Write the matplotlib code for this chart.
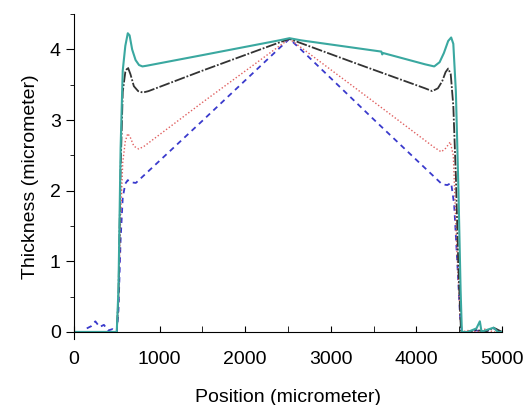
import matplotlib.pyplot as plt
from matplotlib.ticker import MultipleLocator

plt.rcParams['font.family'] = ['Liberation Sans', 'DejaVu Sans']

# teal solid
x_teal = [0, 200, 400, 500, 520, 545, 570, 600, 629, 650, 680, 720, 760, 800, 850, 1500, 2400, 2517, 2650,
          3590, 3600, 3610, 4100, 4207, 4270, 4320, 4370, 4405, 4430, 4460, 4490, 4515, 4530,
          4600, 4700, 4740, 4760, 4800, 4900, 4950, 5000]
y_teal = [0, 0, 0, 0, 0.6, 2.6, 3.7, 4.05, 4.23, 4.2, 4.0, 3.85, 3.78, 3.76, 3.77, 3.92, 4.13, 4.16, 4.13,
          3.97, 3.93, 3.95, 3.79, 3.76, 3.82, 3.95, 4.12, 4.17, 4.08, 3.4, 2.0, 0.6, 0.0,
          0.0, 0.05, 0.15, 0.0, 0.02, 0.06, 0.0, 0.0]

# black dash-dot
x_black = [0, 300, 500, 520, 545, 570, 600, 629, 660, 700, 750, 805, 870, 1500, 2400, 2517, 2650, 3300,
           4100, 4184, 4250, 4300, 4340, 4370, 4400, 4430, 4460, 4490, 4520, 4600, 4700, 4800, 4900, 5000]
y_black = [0, 0, 0, 0.5, 2.3, 3.4, 3.68, 3.75, 3.65, 3.48, 3.41, 3.39, 3.41, 3.70, 4.10, 4.15, 4.09, 3.80,
           3.45, 3.41, 3.45, 3.55, 3.68, 3.73, 3.65, 3.2, 2.2, 0.9, 0.0, 0.0, 0.03, 0.0, 0.06, 0.0]

# red dotted
x_red = [0, 300, 500, 520, 545, 570, 600, 629, 660, 700, 758, 820, 1500, 2400, 2517, 2650, 3500,
         4200, 4289, 4340, 4394, 4430, 4470, 4510, 4530, 4600, 4700, 4800, 4900, 5000]
y_red = [0, 0, 0, 0.4, 1.6, 2.4, 2.7, 2.81, 2.75, 2.63, 2.59, 2.63, 3.25, 4.05, 4.15, 4.03, 3.26,
         2.62, 2.55, 2.6, 2.69, 2.5, 1.2, 0.2, 0.0, 0.02, 0.0, 0.04, 0.0, 0.0]

# blue dashed
x_blue = [150, 200, 250, 300, 350, 400, 450, 500, 520, 545, 570, 600, 629, 660, 723, 1500, 2400, 2517,
          2650, 3500, 4300, 4360, 4405, 4440, 4480, 4510, 4530, 4600, 4700, 4800, 4900, 5000]
y_blue = [0.05, 0.08, 0.15, 0.07, 0.1, 0.02, 0.04, 0.0, 0.3, 1.3, 1.9, 2.1, 2.15, 2.12, 2.11, 2.99, 4.02, 4.15,
          4.0, 3.01, 2.09, 2.08, 2.11, 1.8, 0.9, 0.2, 0.0, 0.0, 0.02, 0.0, 0.05, 0.0]

fig = plt.figure(figsize=(5.28, 4.05), dpi=100)
ax = fig.add_axes([0.140, 0.163, 0.811, 0.802])

ax.plot(x_blue, y_blue, color='#3a3acc', lw=1.3, linestyle=(0, (3, 2.5)))
ax.plot(x_red, y_red, color='#e06060', lw=1.0, linestyle=(0, (1, 1.5)))
ax.plot(x_black, y_black, color='#333333', lw=1.3, linestyle=(0, (6, 1, 1, 1)))
ax.plot(x_teal, y_teal, color='#3aa8a0', lw=1.5)

ax.set_xlim(0, 5000)
ax.set_ylim(-0.1, 4.5)
ax.spines['top'].set_visible(False)
ax.spines['right'].set_visible(False)
ax.spines['bottom'].set_position(('data', 0))

ax.xaxis.set_major_locator(MultipleLocator(1000))
ax.xaxis.set_minor_locator(MultipleLocator(500))
ax.yaxis.set_major_locator(MultipleLocator(1))
ax.yaxis.set_minor_locator(MultipleLocator(0.5))
ax.tick_params(axis='x', which='major', direction='in', length=4, labelsize=14, pad=14)
ax.tick_params(axis='x', which='minor', direction='in', length=4)
ax.tick_params(axis='y', which='major', direction='out', length=6, labelsize=14)
ax.tick_params(axis='y', which='minor', direction='out', length=3)

ax.set_xlabel('Position (micrometer)', fontsize=14, labelpad=15)
ax.set_ylabel('Thickness (micrometer)', fontsize=14, labelpad=8)

fig.savefig('out.png', dpi=100)
